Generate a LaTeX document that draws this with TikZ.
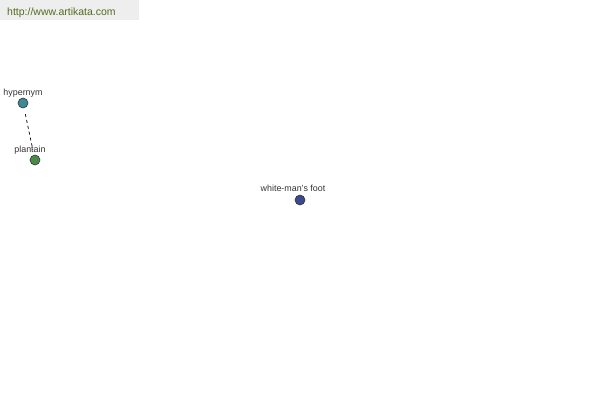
\documentclass[tikz,border=0pt]{standalone}
\usepackage{fontspec}
\setmainfont{Liberation Sans}
\definecolor{banner}{HTML}{EEEEEE}
\definecolor{urlcol}{HTML}{556B1F}
\definecolor{hypcol}{HTML}{3A8A94}
\definecolor{placol}{HTML}{4A8A48}
\definecolor{whicol}{HTML}{3C4A8C}
\definecolor{labcol}{HTML}{333333}
\begin{document}
\begin{tikzpicture}[x=1pt,y=-1pt,
  dot/.style={circle,draw=black!80,line width=0.6pt,minimum size=10pt,inner sep=0pt},
  lab/.style={font=\fontsize{8.9}{9}\selectfont,text=labcol,inner sep=0pt,anchor=base},
  rel/.style={draw=black,line width=0.7pt,dash pattern=on 3pt off 3pt}]
\useasboundingbox (0,0) rectangle (600,400);
\fill[banner] (0,0) rectangle (139,20);
\node[font=\fontsize{10.5}{12}\selectfont,text=urlcol,anchor=base west,inner sep=0pt] (url) at (7,15) {http://www.artikata.com};
\node[dot,fill=hypcol] (hyp) at (23,103) {};
\node[dot,fill=placol] (pla) at (35,160) {};
\node[dot,fill=whicol] (whi) at (300,200) {};
\node[lab] (hyplab) at (23,95) {hypernym};
\node[lab] (plalab) at (30,152) {plantain};
\node[lab] (whilab) at (293,191) {white-man's foot};
\draw[rel,shorten <=6pt,shorten >=5pt] (hyp) -- (pla);
\end{tikzpicture}
\end{document}
